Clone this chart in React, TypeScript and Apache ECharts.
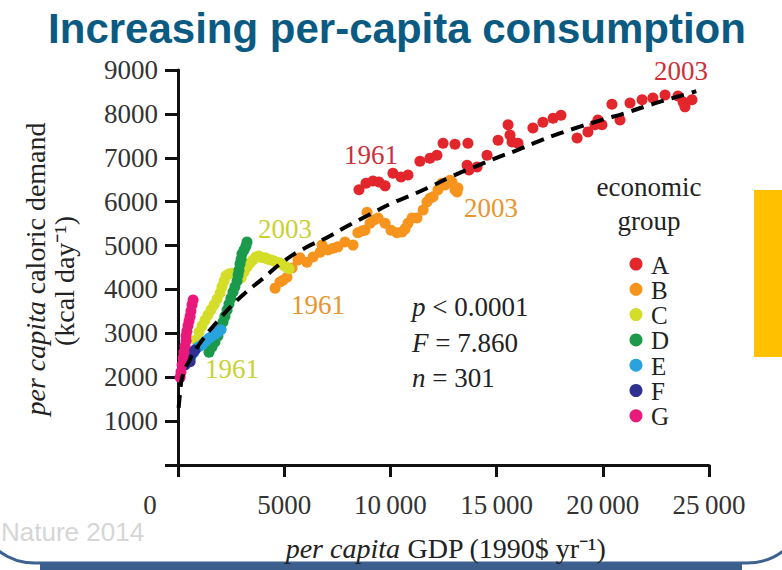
import React, { useEffect, useRef } from 'react';
import * as echarts from 'echarts';

const groupNames = ['A', 'B', 'C', 'D', 'E', 'F', 'G'];
const groupColors = ['#e3262b', '#f7941d', '#d4dd27', '#1a9a4a', '#29a3dd', '#2e3192', '#e8197b'];

const groupA: [number, number][] = [
  [8520, 6270], [8850, 6420], [9180, 6470], [9460, 6450], [9750, 6360], [10120, 6650], [10500, 6560],
  [10830, 6610], [11390, 6920], [11860, 6990], [12190, 7060], [12480, 7330], [13040, 7310], [13650, 7330],
  [13610, 6830], [13700, 6720], [14080, 6790], [14550, 7060], [15070, 7400], [15540, 7750], [15630, 7520],
  [15730, 7360], [16010, 7330], [16710, 7680], [17180, 7810], [17660, 7900], [18030, 7970], [18790, 7450],
  [19300, 7590], [19630, 7750], [19960, 7750], [19770, 7860], [20430, 8220], [20810, 7860], [21280, 8250],
  [21850, 8320], [22360, 8360], [22930, 8430], [23540, 8410], [23780, 8270], [23870, 8160], [24200, 8320],
];

const groupB: [number, number][] = [
  [4570, 4030], [4800, 4170], [4940, 4210], [5130, 4280], [5370, 4490], [5650, 4670], [5740, 4720],
  [6070, 4620], [6360, 4740], [6690, 4850], [6780, 5010], [7060, 4900], [7300, 4940], [7530, 4970],
  [7860, 5080], [8240, 5010], [8470, 5290], [8660, 5330], [8800, 5350], [8900, 5760], [9040, 5510],
  [9230, 5580], [9420, 5630], [9750, 5510], [10030, 5350], [10310, 5290], [10550, 5310], [10690, 5380],
  [10830, 5510], [11020, 5630], [11250, 5630], [11540, 5810], [11720, 5990], [11860, 6080], [12010, 6110],
  [12240, 6270], [12430, 6420], [12570, 6380], [12810, 6490], [12900, 6450], [13040, 6270], [13180, 6310],
  [13140, 6220],
];

const groupC: [number, number][] = [
  [850, 2850], [990, 3030], [1130, 3170], [1270, 3300], [1410, 3420], [1550, 3530], [1700, 3650],
  [1840, 3780], [1980, 3920], [2070, 4060], [2170, 4190], [2260, 4310], [2400, 4350], [2540, 4370],
  [2680, 4350], [2830, 4310], [2970, 4260], [3110, 4400], [3250, 4510], [3390, 4600], [3530, 4670],
  [3670, 4740], [3810, 4760], [3960, 4720], [4100, 4720], [4240, 4690], [4380, 4670], [4520, 4650],
  [4660, 4620], [4800, 4600], [4940, 4560], [5090, 4510], [5230, 4470],
];

const groupD: [number, number][] = [
  [1460, 2570], [1600, 2690], [1740, 2800], [1880, 2940], [2020, 3100], [2120, 3260], [2210, 3390],
  [2310, 3530], [2400, 3670], [2490, 3800], [2590, 3940], [2680, 4060], [2780, 4190], [2830, 4330],
  [2870, 4440], [2920, 4580], [2970, 4690], [3010, 4810], [3110, 4900], [3200, 4990], [3250, 5080],
];

const groupE: [number, number][] = [
  [610, 2460], [750, 2570], [900, 2670], [1040, 2710], [1180, 2760], [1320, 2830], [1460, 2890],
  [1600, 2940], [1740, 2980], [1880, 3030], [2020, 3080],
];

const groupF: [number, number][] = [
  [330, 2280], [420, 2350], [520, 2440], [610, 2510], [710, 2570], [800, 2620], [570, 2350],
];

const groupG: [number, number][] = [
  [100, 2000], [140, 2120], [190, 2280], [240, 2440], [280, 2570], [330, 2710], [380, 2830],
  [380, 2940], [420, 3050], [470, 3170], [520, 3280], [570, 3390], [610, 3510], [660, 3650], [710, 3760],
];

const groups = [groupA, groupB, groupC, groupD, groupE, groupF, groupG];

const trendCurve: [number, number][] = [
  [30, 1300], [100, 1650], [200, 2000], [500, 2350], [1000, 2750], [2000, 3350], [3000, 3850],
  [4000, 4250], [5000, 4650], [6000, 4950], [7000, 5180], [8000, 5450], [9000, 5700], [10000, 5950],
  [11000, 6150], [12000, 6370], [13000, 6600], [14000, 6800], [15000, 7000], [16000, 7180], [17000, 7380],
  [18000, 7560], [19000, 7720], [20000, 7870], [21000, 8010], [22000, 8170], [23000, 8320], [24000, 8460],
  [24400, 8520],
];

const xTickLabels = ['0', '5000', '10\u2009000', '15\u2009000', '20\u2009000', '25\u2009000'];
const yTickLabels = ['', '1000', '2000', '3000', '4000', '5000', '6000', '7000', '8000', '9000'];

const SERIF = '"Liberation Serif", "Times New Roman", serif';
const SANS = '"Liberation Sans", Arial, sans-serif';

export default function App() {
  const ref = useRef<HTMLDivElement>(null);
  useEffect(() => {
    const chart = echarts.init(ref.current!, null, { renderer: 'svg' });
    const axisCommon = {
      axisLine: { show: true, onZero: false, lineStyle: { color: '#111', width: 3 } },
      axisTick: { show: true, length: 12, lineStyle: { color: '#111', width: 3 } },
      splitLine: { show: false },
    };
    const yearLabel = (text: string, x: number, y: number, color: string) => ({
      type: 'text', x, y,
      style: { text, fill: color, fontSize: 27, fontFamily: SERIF, align: 'center', verticalAlign: 'middle' },
    });
    const legendItems = groupNames.flatMap((name, i) => [
      {
        type: 'circle', shape: { cx: 636, cy: 264 + i * 25.3, r: 6.5 },
        style: { fill: groupColors[i] },
      },
      {
        type: 'text', x: 651, y: 265 + i * 25.3,
        style: { text: name, fill: '#222', fontSize: 25, lineHeight: 24, fontFamily: SERIF, align: 'left', verticalAlign: 'middle' },
      },
    ]);
    chart.setOption({
      animation: false,
      backgroundColor: '#fff',
      grid: { left: 178, right: 73, top: 70, bottom: 105, containLabel: false },
      xAxis: {
        type: 'value', min: 0, max: 25000, interval: 5000,
        ...axisCommon,
        axisLabel: {
          margin: 26, color: '#333', fontSize: 27, fontFamily: SERIF,
          formatter: (v: number) => {
            const s = xTickLabels[Math.round(v / 5000)];
            return v === 0 ? '{z|' + s + '}' : s;
          },
          rich: { z: { fontSize: 27, fontFamily: SERIF, color: '#333', padding: [0, 56, 0, 0] } },
        },
      },
      yAxis: {
        type: 'value', min: 0, max: 9000, interval: 1000,
        ...axisCommon,
        axisTick: { show: true, length: 13, lineStyle: { color: '#111', width: 3 } },
        axisLabel: {
          margin: 20, color: '#333', fontSize: 27, fontFamily: SERIF,
          formatter: (v: number) => yTickLabels[Math.round(v / 1000)],
        },
      },
      series: [
        ...groups.map((g, i) => ({
          type: 'scatter', name: groupNames[i], data: g, symbolSize: 11,
          itemStyle: { color: groupColors[i], opacity: 1 }, z: 2,
        })),
        {
          type: 'line', name: 'fit', data: trendCurve, smooth: true, showSymbol: false, z: 5,
          lineStyle: { color: '#000', width: 4, type: [13, 8] },
        },
      ],
      graphic: [
        {
          type: 'text', x: 397, y: 28,
          style: {
            text: 'Increasing per-capita consumption', fill: '#0b5a82', fontSize: 42, fontWeight: 'bold',
            fontFamily: SANS, align: 'center', verticalAlign: 'middle',
          },
        },
        { type: 'rect', shape: { x: 754, y: 190, width: 30, height: 167 }, style: { fill: '#ffc000' } },
        {
          type: 'text', x: 1, y: 532,
          style: { text: 'Nature 2014', fill: '#d6d6d6', fontSize: 26, fontFamily: SANS, align: 'left', verticalAlign: 'middle' },
        },
        {
          type: 'rect', shape: { x: -25, y: -200, width: 832, height: 763, r: 60 },
          style: { fill: 'none', stroke: '#3d6190', lineWidth: 3 },
        },
        { type: 'rect', shape: { x: 40, y: 564, width: 702, height: 8 }, style: { fill: '#3b5e8c' } },
        yearLabel('2003', 681, 71, '#cf2f38'),
        yearLabel('1961', 371, 155, '#cf2f38'),
        yearLabel('2003', 285, 229, '#c9d134'),
        yearLabel('1961', 318, 305, '#e8952e'),
        yearLabel('2003', 491, 208, '#e8952e'),
        yearLabel('1961', 232, 369, '#c9d134'),
        {
          type: 'text', x: 649, y: 187,
          style: { text: 'economic', fill: '#222', fontSize: 27, fontFamily: SERIF, align: 'center', verticalAlign: 'middle' },
        },
        {
          type: 'text', x: 649, y: 221,
          style: { text: 'group', fill: '#222', fontSize: 27, fontFamily: SERIF, align: 'center', verticalAlign: 'middle' },
        },
        ...legendItems,
        ...[
          ['{i|p} < 0.0001', 307],
          ['{i|F} = 7.860', 343],
          ['{i|n} = 301', 378],
        ].map(([t, y]) => ({
          type: 'text', x: 412, y: y as number,
          style: {
            text: t as string, fill: '#222', fontSize: 27, fontFamily: SERIF, align: 'left', verticalAlign: 'middle',
            rich: { i: { fontStyle: 'italic', fontSize: 27, fontFamily: SERIF, fill: '#222' } },
          },
        })),
        {
          type: 'text', x: 446, y: 548,
          style: {
            text: '{i|per capita} GDP (1990$ yr\u207B\u00B9)', fill: '#222', fontSize: 28, fontFamily: SERIF,
            align: 'center', verticalAlign: 'middle',
            rich: { i: { fontStyle: 'italic', fontSize: 28, fontFamily: SERIF, fill: '#222' } },
          },
        },
        {
          type: 'text', x: 35, y: 269, rotation: Math.PI / 2,
          style: {
            text: '{i|per capita} caloric demand', fill: '#222', fontSize: 28, fontFamily: SERIF,
            align: 'center', verticalAlign: 'middle',
            rich: { i: { fontStyle: 'italic', fontSize: 28, fontFamily: SERIF, fill: '#222' } },
          },
        },
        {
          type: 'text', x: 64, y: 281, rotation: Math.PI / 2,
          style: {
            text: '(kcal day\u207B\u00B9)', fill: '#222', fontSize: 28, fontFamily: SERIF,
            align: 'center', verticalAlign: 'middle',
          },
        },
      ],
    });
    return () => chart.dispose();
  }, []);
  return <div ref={ref} style={{ position: 'absolute', left: 0, top: 0, width: 782, height: 570 }} />;
}
